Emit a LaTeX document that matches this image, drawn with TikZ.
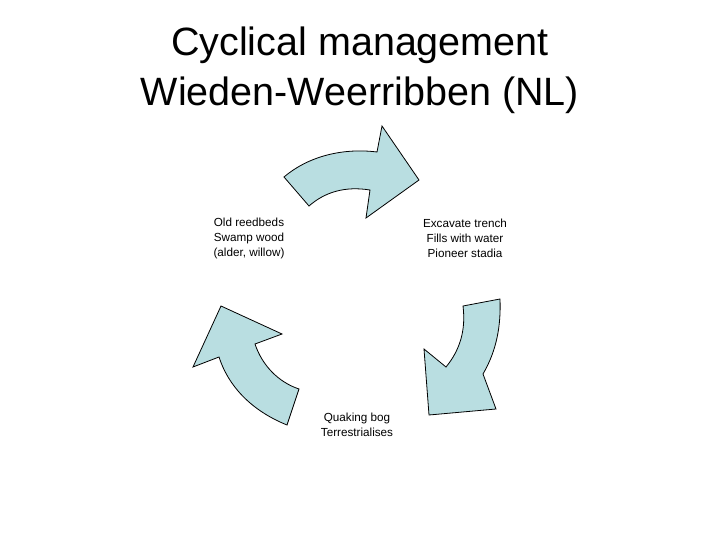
\documentclass[tikz,border=0pt]{standalone}
\usepackage{fontspec}
\setmainfont{Liberation Sans}
\definecolor{arrowfill}{HTML}{B9DEE1}
\begin{document}
\begin{tikzpicture}[x=1pt,y=-1pt,
  cyc/.style={draw=black,line width=0.8pt,fill=arrowfill,line join=miter},
  lbl/.style={font=\fontsize{11.7}{15}\selectfont,align=center,inner sep=0pt}]
\useasboundingbox (0,0) rectangle (720,540);
\node[font=\fontsize{39.5}{50}\selectfont,align=center,inner sep=0] (title) at (360,70) {Cyclical management\\Wieden-Weerribben (NL)};
\path[cyc] (284,177) .. controls (310,155) and (345,148) .. (377,152) -- (382,126) -- (419,180) -- (366,218) -- (370,190) .. controls (345,186) and (325,192) .. (309,206) -- cycle;
\path[cyc] (500,299) -- (463,306) .. controls (466,330) and (460,350) .. (446,367) -- (424,349) -- (429,415) -- (496,409) -- (483,374) .. controls (497,350) and (501,325) .. (500,299) -- cycle;
\path[cyc] (299,389) -- (287,425) .. controls (250,410) and (228,385) .. (219,357) -- (193,367) -- (221,306) -- (282,334) -- (255,344) .. controls (262,365) and (278,382) .. (299,389) -- cycle;
\node[lbl] (old) at (249,238) {Old reedbeds\\Swamp wood\\(alder, willow)};
\node[lbl] (exc) at (465,238) {Excavate trench\\Fills with water\\Pioneer stadia};
\node[lbl] (qua) at (357,425) {Quaking bog\\Terrestrialises};
\end{tikzpicture}
\end{document}
